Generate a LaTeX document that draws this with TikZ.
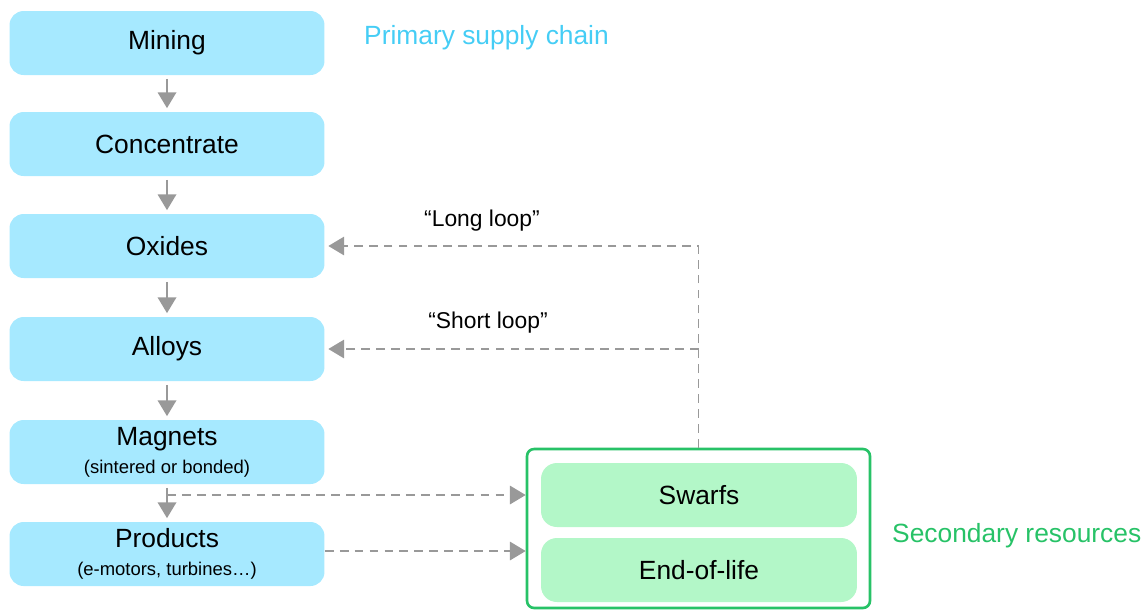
\documentclass[tikz,border=0pt]{standalone}
\usepackage{fontspec}
\setmainfont{Liberation Sans}
\usetikzlibrary{arrows.meta}
\definecolor{stepblue}{HTML}{A6E9FF}
\definecolor{titleblue}{HTML}{45CDF5}
\definecolor{secgreen}{HTML}{27C267}
\definecolor{secfill}{HTML}{B3F7C8}
\definecolor{flowgray}{HTML}{999999}
\begin{document}
\begin{tikzpicture}[
    x=0.02cm, y=-0.02cm,
    font=\fontsize{15}{18}\selectfont,
    stepbox/.style={rectangle, fill=stepblue, rounded corners=8pt, minimum width=6.3cm, minimum height=1.28cm, align=center, inner sep=0pt},
    secbox/.style={rectangle, fill=secfill, rounded corners=9pt, minimum width=6.32cm, minimum height=1.28cm, inner sep=0pt},
    secframe/.style={rectangle, draw=secgreen, line width=1.5pt, rounded corners=4pt, minimum width=6.86cm, minimum height=3.18cm, inner sep=0pt},
    flow/.style={draw=flowgray, line width=1.2pt, -{Triangle[length=9pt, width=10.5pt]}},
    dashflow/.style={flow, line width=1pt, dash pattern=on 5pt off 3.5pt},
    looplabel/.style={font=\fontsize{13}{15}\selectfont}
]
    \useasboundingbox (0,0) rectangle (1146,610);

    % 1. Primary supply chain
    \node[stepbox] (mining) at (167, 43) {Mining};
    \node[stepbox] (conc) at (167, 144) {Concentrate};
    \node[stepbox] (oxides) at (167, 246) {Oxides};
    \node[stepbox] (alloys) at (167, 349) {Alloys};
    \node[stepbox] (magnets) at (167, 452) {Magnets\\[-2pt]{\fontsize{10.5}{12}\selectfont (sintered or bonded)}};
    \node[stepbox] (products) at (167, 554) {Products\\[-2pt]{\fontsize{10.5}{12}\selectfont (e-motors, turbines\ldots)}};
    \node[text=titleblue, anchor=west] (primlabel) at (358, 38) {Primary supply chain};

    % Arrows: down the chain
    \draw[flow, shorten <=2pt, shorten >=2pt] (mining.south) -- (conc.north);
    \draw[flow, shorten <=2pt, shorten >=2pt] (conc.south) -- (oxides.north);
    \draw[flow, shorten <=2pt, shorten >=2pt] (oxides.south) -- (alloys.north);
    \draw[flow, shorten <=2pt, shorten >=2pt] (alloys.south) -- (magnets.north);
    \draw[flow, shorten <=2pt, shorten >=2pt] (magnets.south) -- (products.north);

    % 2. Secondary resources
    \node[secframe] (secondary) at (698.5, 528.5) {};
    \node[secbox] (swarfs) at (699, 495) {Swarfs};
    \node[secbox] (eol) at (699, 570) {End-of-life};
    \node[text=secgreen, anchor=west] (seclabel) at (886, 536) {Secondary resources};

    % Arrows: into secondary resources
    \draw[dashflow] (magnets.south |- swarfs.west) -- (secondary.west |- swarfs.west);
    \draw[dashflow] (products.east |- 0,551) -- (secondary.west |- 0,551);

    % 3. Loops back
    \draw[dashflow, shorten >=2pt] (secondary.north) |- (oxides.east);
    \draw[dashflow, shorten >=2pt] (secondary.north |- alloys.east) -- (alloys.east);
    \node[looplabel] (longlbl) at (482, 221) {“Long loop”};
    \node[looplabel] (shortlbl) at (488, 323) {“Short loop”};

\end{tikzpicture}
\end{document}
